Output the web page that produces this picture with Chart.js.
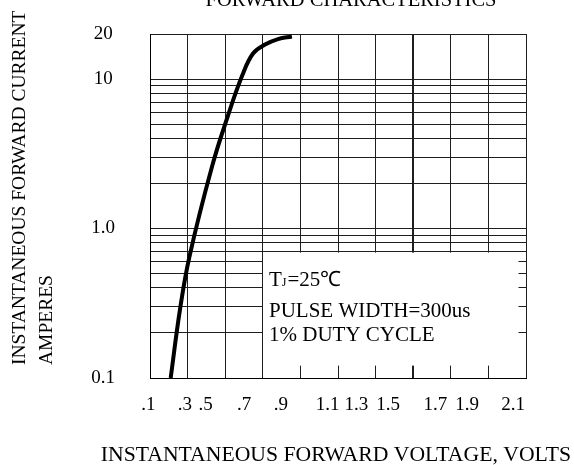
<!DOCTYPE html>
<html>
<head>
<meta charset="utf-8">
<script src="https://cdn.jsdelivr.net/npm/chart.js@4.4.1/dist/chart.umd.min.js"></script>
<style>
  body { margin: 0; background: #fff; }
  #wrap { width: 574px; height: 465px; position: relative; }
</style>
</head>
<body>
<div id="wrap"><canvas id="fwd-chart"></canvas></div>
<script>
// forward characteristic
const volts = [0.21, 0.26, 0.31, 0.43, 0.515, 0.59, 0.648, 0.712, 0.781, 0.855];
const amps = [0.10, 0.29, 0.65, 2.6, 5.7, 10.5, 14.8, 17.0, 18.5, 19.25];

// x grid every 0.2 V, labels printed a little left of their lines
const voltGrid = [0.1, 0.3, 0.5, 0.7, 0.9, 1.1, 1.3, 1.5, 1.7, 1.9, 2.1];
const voltLabels = ['.1', '.3', '.5', '.7', '.9', '1.1', '1.3', '1.5', '1.7', '1.9', '2.1'];
const voltLabelAt = [0.091, 0.286, 0.396, 0.6, 0.796, 1.045, 1.198, 1.366, 1.618, 1.787, 2.031];

// log grid for current
const ampGrid = [0.1, 0.2, 0.3, 0.4, 0.5, 0.6, 0.7, 0.8, 0.9, 1, 2, 3, 4, 5, 6, 7, 8, 9, 10, 20];
const ampTicks = [0.1, 1, 10, 20];
const ampLabels = ['0.1', '1.0', '10', '20'];

const conditions = ['PULSE WIDTH=300us', '1% DUTY CYCLE'];

const SERIF = "'Liberation Serif', 'Times New Roman', serif";
Chart.defaults.font.family = SERIF;
Chart.defaults.color = '#000';

const same = (a, b) => Math.abs(a - b) < 1e-9;

// title and axis names sit outside the plot, drawn by hand so they keep full width
const captions = {
  id: 'captions',
  afterDraw(chart) {
    const { ctx, chartArea } = chart;
    ctx.save();
    ctx.fillStyle = '#000';

    ctx.font = `20.5px ${SERIF}`;
    ctx.textAlign = 'center';
    ctx.textBaseline = 'alphabetic';
    ctx.fillText('FORWARD CHARACTERISTICS', 351, 6);

    ctx.font = `21.7px ${SERIF}`;
    ctx.textBaseline = 'middle';
    ctx.fillText('INSTANTANEOUS FORWARD VOLTAGE, VOLTS', (chartArea.left + chartArea.right) / 2 - 2, 455);

    ctx.translate(20, chartArea.bottom - 13);
    ctx.rotate(-Math.PI / 2);
    ctx.font = `19.5px ${SERIF}`;
    ctx.textAlign = 'left';
    ctx.fillText('INSTANTANEOUS FORWARD CURRENT', 0, 0);
    ctx.fillText('AMPERES', 0, 27);
    ctx.restore();
  },
};

const conditionsBox = {
  id: 'conditionsBox',
  beforeDatasetsDraw(chart) {
    const { ctx, scales: { x, y } } = chart;
    const left = Math.floor(x.getPixelForValue(0.7)) + 1;
    const right = x.getPixelForValue(2.06);
    const top = y.getPixelForValue(0.69);
    const bottom = y.getPixelForValue(0.121);
    ctx.save();
    ctx.fillStyle = '#fff';
    ctx.fillRect(left, top, right - left, bottom - top);

    ctx.fillStyle = '#000';
    ctx.textAlign = 'left';
    ctx.textBaseline = 'alphabetic';
    let tx = left + 6;
    const firstBase = bottom - 80;
    ctx.font = `21px ${SERIF}`;
    ctx.fillText('T', tx, firstBase);
    tx += ctx.measureText('T').width;
    ctx.font = `12px ${SERIF}`;
    ctx.fillText('J', tx, firstBase);
    tx += ctx.measureText('J').width + 1;
    ctx.font = `21px ${SERIF}`;
    ctx.fillText('=25℃', tx, firstBase);
    ctx.fillText(conditions[0], left + 6, bottom - 49);
    ctx.fillText(conditions[1], left + 6, bottom - 25);
    ctx.restore();
  },
};

const ctx = document.getElementById('fwd-chart').getContext('2d');

new Chart(ctx, {
  type: 'line',
  data: {
    datasets: [{
      data: volts.map((v, i) => ({ x: v, y: amps[i] })),
      borderColor: '#000',
      borderWidth: 4,
      pointRadius: 0,
      tension: 0.4,
      fill: false,
    }],
  },
  options: {
    responsive: true,
    maintainAspectRatio: false,
    animation: false,
    layout: {
      padding: { left: 7, right: 48, top: 34, bottom: 0 },
    },
    plugins: {
      legend: { display: false },
      tooltip: { enabled: false },
    },
    scales: {
      x: {
        type: 'linear',
        position: 'bottom',
        min: 0.1,
        max: 2.1,
        afterBuildTicks: (scale) => {
          scale.ticks = voltGrid.map((v) => ({ value: v }));
        },
        afterFit: (scale) => {
          scale.height = 0;
        },
        ticks: { display: false, autoSkip: false },
        grid: {
          color: '#1e1e1e',
          lineWidth: (c) => (c.tick && same(c.tick.value, 1.5) ? 2 : 1),
          drawTicks: false,
        },
        border: { color: '#000', width: 1 },
      },
      xl: {
        type: 'linear',
        position: 'bottom',
        weight: 1,
        min: 0.1,
        max: 2.1,
        afterBuildTicks: (scale) => {
          scale.ticks = voltLabelAt.map((v) => ({ value: v }));
        },
        afterFit: (scale) => {
          scale.height = 87;
        },
        ticks: {
          autoSkip: false,
          maxRotation: 0,
          minRotation: 0,
          padding: 16,
          font: { size: 19 },
          callback: (v, i) => voltLabels[i],
        },
        grid: { display: false, drawTicks: false },
        border: { display: false },
      },
      y: {
        type: 'logarithmic',
        min: 0.1,
        max: 20,
        afterBuildTicks: (scale) => {
          scale.ticks = ampGrid.map((v) => ({ value: v }));
        },
        afterFit: (scale) => {
          scale.width = 143;
        },
        ticks: {
          autoSkip: false,
          crossAlign: 'center',
          padding: 0,
          font: { size: 19 },
          callback: (v) => {
            const k = ampTicks.findIndex((t) => same(t, v));
            return k < 0 ? '' : ampLabels[k];
          },
        },
        grid: {
          color: '#1e1e1e',
          lineWidth: 1,
          drawTicks: true,
          tickLength: 35,
          tickColor: 'rgba(0,0,0,0)',
        },
        border: { color: '#000', width: 1 },
      },
    },
  },
  plugins: [captions, conditionsBox],
});
</script>
</body>
</html>
